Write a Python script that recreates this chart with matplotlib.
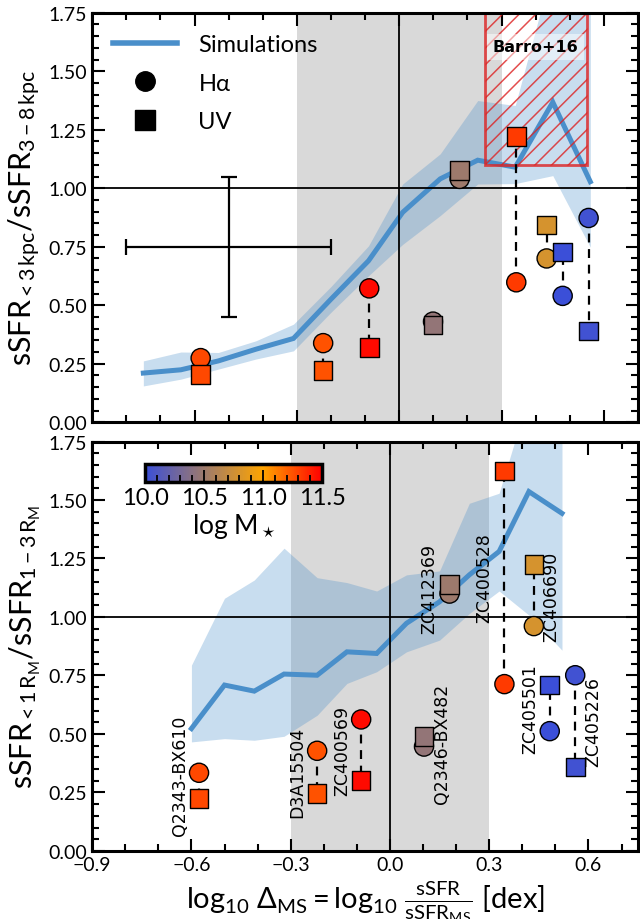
import numpy as np
import matplotlib
matplotlib.use("Agg")
import matplotlib.pyplot as plt
from matplotlib.colors import LinearSegmentedColormap, Normalize
from matplotlib.lines import Line2D
from matplotlib.patches import Rectangle
from matplotlib.ticker import MultipleLocator

plt.rcParams['font.family'] = ['Lato', 'DejaVu Sans']
plt.rcParams['mathtext.fontset'] = 'custom'
plt.rcParams['mathtext.rm'] = 'Lato'
plt.rcParams['mathtext.it'] = 'Lato:italic'
plt.rcParams['mathtext.bf'] = 'Lato:bold'
plt.rcParams['mathtext.sf'] = 'Lato'
plt.rcParams['hatch.linewidth'] = 1.1

# ---------------- data ----------------
names = ["Q2343-BX610", "D3A15504", "ZC400569", "Q2346-BX482", "ZC412369",
         "ZC400528", "ZC406690", "ZC405501", "ZC405226"]
logM = [11.28, 11.25, 11.47, 10.45, 10.50, 11.32, 10.79, 10.00, 10.03]

# top panel (3 kpc)
dms_top = [-0.582, -0.223, -0.088, 0.099, 0.177, 0.343, 0.432, 0.479, 0.555]
ha_top = [0.274, 0.338, 0.572, 0.43, 1.04, 0.598, 0.70, 0.54, 0.873]
uv_top = [0.205, 0.222, 0.32, 0.415, 1.075, 1.22, 0.843, 0.727, 0.39]

# bottom panel (R_M)
dms_bot = [-0.577, -0.220, -0.087, 0.103, 0.180, 0.346, 0.435, 0.483, 0.560]
ha_bot = [0.334, 0.428, 0.562, 0.446, 1.10, 0.713, 0.961, 0.512, 0.751]
uv_bot = [0.224, 0.245, 0.300, 0.49, 1.14, 1.624, 1.225, 0.709, 0.359]

# simulations, top panel
sim_x_top = [-0.75, -0.64, -0.53, -0.42, -0.31, -0.20, -0.09, 0.01, 0.12, 0.23, 0.34, 0.45, 0.56]
sim_y_top = [0.21, 0.224, 0.262, 0.312, 0.358, 0.526, 0.690, 0.897, 1.04, 1.12, 1.09, 1.368, 1.028]
sim_lo_top = [0.155, 0.184, 0.227, 0.27, 0.305, 0.47, 0.626, 0.76, 0.883, 1.018, 1.02, 1.054, 0.748]
sim_hi_top = [0.262, 0.30, 0.298, 0.348, 0.419, 0.58, 0.754, 1.018, 1.147, 1.375, 1.354, 1.95, 1.95]

# simulations, bottom panel
sim_x_bot = [-0.60, -0.50, -0.41, -0.32, -0.22, -0.13, -0.04, 0.05, 0.15, 0.24, 0.33, 0.42, 0.52]
sim_y_bot = [0.523, 0.709, 0.683, 0.756, 0.751, 0.851, 0.844, 0.973, 1.065, 1.18, 1.28, 1.536, 1.443]
sim_lo_bot = [0.466, 0.48, 0.473, 0.49, 0.58, 0.716, 0.766, 0.851, 0.901, 1.015, 1.111, 1.008, 0.858]
sim_hi_bot = [0.794, 1.08, 1.158, 1.294, 1.168, 1.147, 1.111, 1.18, 1.197, 1.486, 1.529, 1.95, 1.95]

# typical error bar
err_x, err_y, err_dx, err_dy = -0.50, 0.75, 0.30, 0.30

# Barro+16 region
barro_x = (0.25, 0.55)
barro_ylow = 1.10

cbar_ticks = [10.0, 10.5, 11.0, 11.5]

# ---------------- style ----------------
cmap = LinearSegmentedColormap.from_list(
    "mass", [(0.0, "#3b4fd8"), (0.667, "#ffa500"), (1.0, "#ff0000")])
norm = Normalize(10.0, 11.5)
line_c = "#4a8fca"
band_c = "#4a8fca"
gray_c = "#d9d9d9"

fig = plt.figure(figsize=(6.4, 9.2), dpi=100)
ax1 = fig.add_axes([0.144, 0.540, 0.853, 0.445])
ax2 = fig.add_axes([0.144, 0.074, 0.853, 0.445])


def style_axis(ax, xlim):
    ax.set_xlim(*xlim)
    ax.set_ylim(0, 1.75)
    ax.xaxis.set_major_locator(MultipleLocator(0.3))
    ax.xaxis.set_minor_locator(MultipleLocator(0.1))
    ax.yaxis.set_major_locator(MultipleLocator(0.25))
    ax.yaxis.set_minor_locator(MultipleLocator(0.05))
    ax.tick_params(which='both', direction='in', top=True, right=True,
                   labelsize=14, width=1.5)
    ax.tick_params(which='major', length=9)
    ax.tick_params(which='minor', length=5)
    for s in ax.spines.values():
        s.set_linewidth(2.2)


def draw_panel(ax, dms, ha, uv, sx, sy, slo, shi):
    ax.axvspan(-0.3, 0.3, color=gray_c, zorder=0, lw=0)
    ax.fill_between(sx, slo, shi, color=band_c, alpha=0.3, lw=0, zorder=1)
    ax.plot(sx, sy, color=line_c, lw=3.6, zorder=2, solid_joinstyle='miter')
    ax.axhline(1.0, color='k', lw=1.3, zorder=2.5)
    ax.axvline(0.0, color='k', lw=1.3, zorder=2.5)
    cols = cmap(norm(np.array(logM)))
    for x, a, u in zip(dms, ha, uv):
        ax.plot([x, x], [a, u], color='k', ls='--', lw=1.6, zorder=3,
                dashes=(4, 3))
    ax.scatter(dms, ha, c=cols, marker='o', s=190, edgecolors='k',
               linewidths=1.0, zorder=4)
    ax.scatter(dms, uv, c=cols, marker='s', s=180, edgecolors='k',
               linewidths=1.0, zorder=5)


# ---------- top panel ----------
style_axis(ax1, (-0.9, 0.70))
draw_panel(ax1, dms_top, ha_top, uv_top, sim_x_top, sim_y_top, sim_lo_top, sim_hi_top)
ax1.tick_params(labelbottom=False)
rect = Rectangle((barro_x[0], barro_ylow), barro_x[1] - barro_x[0], 1.0,
                 facecolor='none', edgecolor='#dd2222', hatch='//', lw=2.0,
                 alpha=0.8, zorder=2.2)
ax1.add_patch(rect)
ax1.text(np.mean(barro_x), 1.605, "Barro+16", family='DejaVu Sans',
         fontweight='bold', fontsize=11.5, ha='center', va='center', zorder=6,
         bbox=dict(facecolor='white', alpha=0.5, edgecolor='none', pad=4))
ax1.errorbar([err_x], [err_y], xerr=[err_dx], yerr=[err_dy], fmt='none',
             ecolor='k', elinewidth=1.6, capsize=6, capthick=1.6, zorder=3)
handles = [Line2D([], [], color=line_c, lw=4),
           Line2D([], [], color='k', marker='o', ls='none', ms=14),
           Line2D([], [], color='k', marker='s', ls='none', ms=14)]
ax1.legend(handles, ["Simulations", "Hα", "UV"], loc='upper left',
           frameon=False, fontsize=17, handlelength=2.7, handletextpad=0.9,
           labelspacing=0.75)
ax1.set_ylabel(r"sSFR$_{<3\,\mathrm{kpc}}$/sSFR$_{3-8\,\mathrm{kpc}}$",
               fontsize=22, labelpad=4)

# ---------- bottom panel ----------
style_axis(ax2, (-0.9, 0.75))
draw_panel(ax2, dms_bot, ha_bot, uv_bot, sim_x_bot, sim_y_bot, sim_lo_bot, sim_hi_bot)
ax2.set_xticks([-0.9, -0.6, -0.3, 0.0, 0.3, 0.6])
ax2.set_xticklabels(["\u22120.9", "\u22120.6", "\u22120.3", "0.0", "0.3", "0.6"])
ax2.set_ylabel(r"sSFR$_{<1\,\mathrm{R_M}}$/sSFR$_{1-3\,\mathrm{R_M}}$",
               fontsize=22, labelpad=4)
ax2.set_xlabel(r"$\log_{10}\,\Delta_{\mathrm{MS}} = \log_{10}\,\frac{\mathrm{sSFR}}{\mathrm{sSFR_{MS}}}$ [dex]",
               fontsize=21, labelpad=4)

# galaxy name labels (offsets in data units relative to the pair)
lab_dx = [-0.058, -0.061, -0.058, 0.055, -0.060, -0.062, 0.054, -0.059, 0.053]
lab_dy = [0.324, 0.338, 0.431, 0.463, 1.122, 1.172, 1.09, 0.609, 0.555]
for nm, x, dx, y in zip(names, dms_bot, lab_dx, lab_dy):
    ax2.text(x + dx, y, nm, rotation=90, ha='center', va='center',
             fontsize=12.5, family='DejaVu Sans', zorder=6)

# colorbar inset
cax = ax2.inset_axes([0.097, 0.902, 0.324, 0.044])
sm = plt.cm.ScalarMappable(norm=norm, cmap=cmap)
cb = fig.colorbar(sm, cax=cax, orientation='horizontal', ticks=cbar_ticks)
cb.outline.set_linewidth(2.5)
cb.ax.xaxis.set_minor_locator(MultipleLocator(0.1))
cb.ax.tick_params(which='both', direction='in', labelsize=17, width=1.3, pad=4)
cb.ax.tick_params(which='major', length=9)
cb.ax.tick_params(which='minor', length=5)
cb.ax.set_xticklabels(["10.0", "10.5", "11.0", "11.5"])
cb.set_label(r"log M$_\star$", fontsize=19, labelpad=2)

fig.savefig("out.png", dpi=100)
